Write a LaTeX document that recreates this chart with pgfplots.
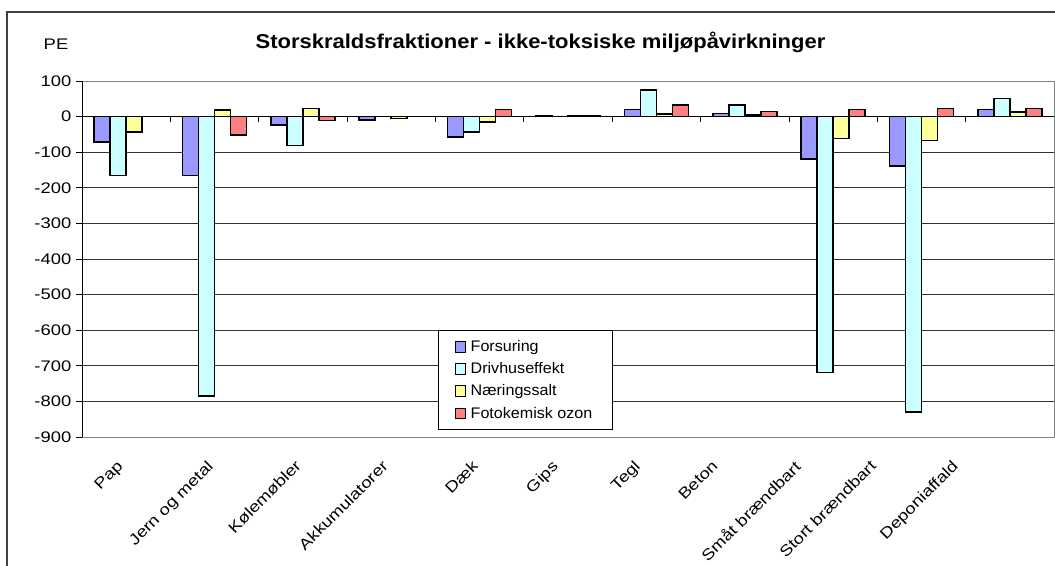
\documentclass[border=0pt]{standalone}
\usepackage{fontspec}
\setmainfont{Liberation Sans}
\newfontfamily\tickfont{Liberation Sans}[FakeStretch=1.2]
\newfontfamily\legfont{Liberation Sans}[FakeStretch=1.05]
\newfontfamily\titlefont{Liberation Sans}[FakeStretch=1.1]
\usepackage{pgfplots}
\pgfplotsset{compat=1.18}
\definecolor{cF}{HTML}{9999FF}
\definecolor{cD}{HTML}{CCFFFF}
\definecolor{cN}{HTML}{FFFF99}
\definecolor{cO}{HTML}{FF8080}
\begin{document}
\begin{tikzpicture}
\begin{scope}[x=0.75pt,y=0.75pt]
\useasboundingbox (0,0) rectangle (1055,565);
\draw[black!75, line width=0.8pt] (7,-20) -- (7,553) -- (1080,553);
\node[font=\titlefont\bfseries\fontsize{15}{18}\selectfont] at (540.5,523) {Storskraldsfraktioner - ikke-toksiske miljøpåvirkninger};
\node[font=\tickfont\fontsize{11.5}{13}\selectfont] at (56,521) {PE};
\end{scope}
\begin{axis}[
  at={(61.5pt,96pt)}, anchor=south west, scale only axis,
  width=729pt, height=267pt,
  ybar=0pt, bar width=12pt,
  xmin=-0.5, xmax=10.5, ymin=-900, ymax=100,
  ytick={-900,-800,...,100},
  ymajorgrids, grid style={black!80, line width=0.5pt},
  axis line style={black!50, line width=0.75pt},
  xtick={-0.07,0.949,1.944,2.929,3.948,4.853,5.781,6.664,7.592,8.452,9.380},
  xticklabels={Pap,Jern og metal,Kølemøbler,Akkumulatorer,Dæk,Gips,Tegl,Beton,Småt brændbart,Stort brændbart,Deponiaffald},
  x tick label style={rotate=45, anchor=north east, inner sep=0pt, xshift=-10.6pt, yshift=-6.4pt, font=\tickfont\fontsize{11.5}{13}\selectfont},
  major x tick style={draw=none},
  xtick pos=bottom, ytick pos=left,
  y tick label style={font=\tickfont\fontsize{11.5}{13}\selectfont},
  /pgf/number format/assume math mode=true,
  tick align=outside, major tick length=4.5pt,
  y tick style={black, line width=0.6pt},
  legend style={at={(0.3663,0.3006)}, anchor=north west, draw=black, line width=0.75pt,
    font=\legfont\fontsize{11.5}{13}\selectfont, cells={anchor=west},
    inner xsep=12pt, inner ysep=4pt, nodes={inner sep=3.4pt}},
  legend image code/.code={\draw[#1, draw=black, line width=0.7pt] (4.5pt,-4pt) rectangle (12.5pt,4pt);},
]
\addplot[fill=cF, draw=black, line width=1.2pt] coordinates {(0,-71) (1,-166) (2,-24) (3,-9) (4,-58) (5,3) (6,20) (7,9) (8,-119) (9,-138) (10,20)};
\addplot[fill=cD, draw=black, line width=1.2pt] coordinates {(0,-166) (1,-785) (2,-81) (3,0) (4,-44) (5,0) (6,75) (7,33) (8,-719) (9,-829) (10,51)};
\addplot[fill=cN, draw=black, line width=1.2pt] coordinates {(0,-43) (1,19) (2,23) (3,-5) (4,-15) (5,3) (6,8) (7,5) (8,-62) (9,-67) (10,13)};
\addplot[fill=cO, draw=black, line width=1.2pt] coordinates {(0,0) (1,-52) (2,-11) (3,0) (4,20) (5,3) (6,33) (7,14) (8,20) (9,23) (10,23)};
\legend{Forsuring,Drivhuseffekt,Næringssalt,Fotokemisk ozon}
\draw[black, line width=0.75pt] (axis cs:-0.5,0) -- (axis cs:10.5,0);
\draw[black, line width=1pt] (rel axis cs:0,0) -- (rel axis cs:0,1);
\pgfplotsinvokeforeach{0.5,1.5,2.5,3.5,4.5,5.5,6.5,7.5,8.5,9.5}{
  \draw[black, line width=0.6pt] (axis cs:#1,0) -- ++(0pt,-3.75pt);
}
\end{axis}
\end{tikzpicture}
\end{document}
